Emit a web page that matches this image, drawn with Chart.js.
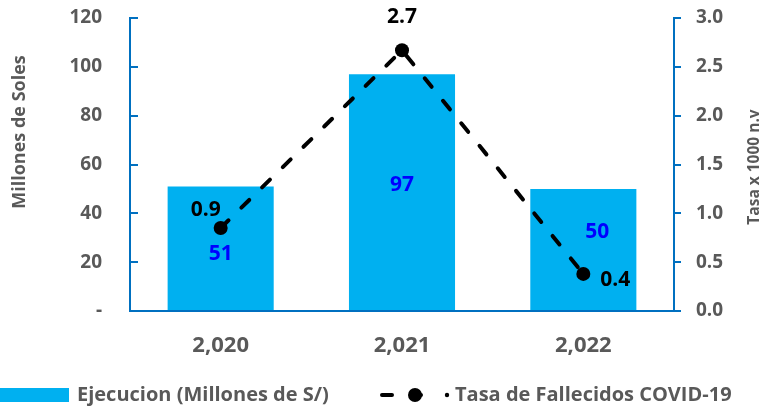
<!DOCTYPE html>
<html>
<head>
<meta charset="utf-8">
<script src="https://cdn.jsdelivr.net/npm/chart.js@4.4.0/dist/chart.umd.min.js"></script>
<style>
  html, body { margin: 0; padding: 0; background: #ffffff; }
  #wrap { width: 764px; height: 410px; position: relative; }
</style>
</head>
<body>
<div id="wrap"><canvas id="c" width="764" height="410"></canvas></div>
<script>
// ---- data ----
const categories = ['2,020', '2,021', '2,022'];
const ejecucion = [51, 97, 50];          // Millones de S/
const tasaFallecidos = [0.85, 2.67, 0.38]; // Tasa x 1000 n.v
const tasaLabels = ['0.9', '2.7', '0.4'];
const leftTicks = [0, 20, 40, 60, 80, 100, 120];
const rightTicks = [0, 0.5, 1.0, 1.5, 2.0, 2.5, 3.0];

const FONT = "'Open Sans', 'DejaVu Sans', sans-serif";
const GRAY = '#595959';
const AXIS_BLUE = '#0070C0';
const BAR_BLUE = '#00B0F0';

// label offsets (style only)
const barLabelOffsets = [[0, 6], [0, -7], [14, -17]];
const lineLabelOffsets = [[-15, -18], [0, -33], [32, 6]];

const labelPlugin = {
  id: 'labels',
  afterDatasetsDraw(chart) {
    const ctx = chart.ctx;
    ctx.save();
    ctx.textAlign = 'center';
    ctx.textBaseline = 'middle';
    const barMeta = chart.getDatasetMeta(1);
    ctx.font = "bold 21px " + FONT;
    ctx.fillStyle = '#0000FF';
    barMeta.data.forEach((el, i) => {
      const cy = (el.y + el.base) / 2;
      ctx.fillText(String(ejecucion[i]), el.x + barLabelOffsets[i][0], cy + barLabelOffsets[i][1]);
    });
    const lineMeta = chart.getDatasetMeta(0);
    ctx.fillStyle = '#000000';
    lineMeta.data.forEach((el, i) => {
      ctx.fillText(tasaLabels[i], el.x + lineLabelOffsets[i][0], el.y + lineLabelOffsets[i][1]);
    });
    ctx.restore();
  },
  afterDraw(chart) {
    const ctx = chart.ctx;
    ctx.save();
    ctx.fillStyle = GRAY;
    ctx.textAlign = 'center';
    ctx.textBaseline = 'middle';
    ctx.save();
    ctx.font = "bold 18px " + FONT;
    ctx.translate(20, 132);
    ctx.rotate(-Math.PI / 2);
    ctx.fillText('Millones de Soles', 0, 0);
    ctx.restore();
    ctx.save();
    ctx.font = "bold 15.5px " + FONT;
    ctx.translate(755, 167);
    ctx.rotate(-Math.PI / 2);
    ctx.fillText('Tasa x 1000 n.v', 0, 0);
    ctx.restore();

    // legend
    const ly = 395;
    ctx.fillStyle = BAR_BLUE;
    ctx.fillRect(0, 388, 69, 14);
    ctx.fillStyle = GRAY;
    ctx.font = "bold 20px " + FONT;
    ctx.textAlign = 'left';
    ctx.fillText('Ejecucion (Millones de S/)', 77, ly);

    ctx.strokeStyle = '#000';
    ctx.lineWidth = 4;
    ctx.lineCap = 'round';
    ctx.beginPath();
    ctx.moveTo(382, ly); ctx.lineTo(392, ly);
    ctx.moveTo(415, ly); ctx.lineTo(421, ly);
    ctx.stroke();
    ctx.fillStyle = '#000';
    ctx.beginPath();
    ctx.arc(415, ly, 7, 0, Math.PI * 2);
    ctx.fill();
    ctx.beginPath();
    ctx.arc(447, ly, 2.2, 0, Math.PI * 2);
    ctx.fill();
    ctx.fillStyle = GRAY;
    ctx.fillText('Tasa de Fallecidos COVID-19', 455, ly);
    ctx.restore();
  }
};

function noPad(s) { s.paddingTop = 0; s.paddingBottom = 0; s.paddingLeft = 0; s.paddingRight = 0; }

new Chart(document.getElementById('c'), {
  data: {
    labels: categories,
    datasets: [
      {
        type: 'line',
        label: 'Tasa de Fallecidos COVID-19',
        data: tasaFallecidos,
        yAxisID: 'y1',
        borderColor: '#000000',
        backgroundColor: '#000000',
        borderWidth: 4,
        borderDash: [11, 18],
        borderCapStyle: 'round',
        tension: 0,
        pointRadius: 7,
        pointHoverRadius: 7,
        pointBackgroundColor: '#000000',
        pointBorderWidth: 0,
        order: 0
      },
      {
        type: 'bar',
        label: 'Ejecucion (Millones de S/)',
        data: ejecucion,
        yAxisID: 'y',
        backgroundColor: BAR_BLUE,
        borderWidth: 0,
        categoryPercentage: 1.0,
        barPercentage: 0.585,
        order: 1
      }
    ]
  },
  options: {
    responsive: false,
    animation: false,
    layout: { padding: { top: 18, left: 0, right: 0, bottom: 0 } },
    plugins: { legend: { display: false }, tooltip: { enabled: false } },
    scales: {
      x: {
        grid: { display: false, drawTicks: false },
        border: { display: true, color: AXIS_BLUE, width: 2 },
        ticks: { color: GRAY, font: { family: FONT, weight: 'bold', size: 22 }, padding: 22 },
        afterFit(s) { s.height = 99; noPad(s); }
      },
      y: {
        position: 'left',
        min: 0, max: 120,
        afterBuildTicks(s) { s.ticks = leftTicks.map(v => ({ value: v })); },
        grid: { drawOnChartArea: false, tickLength: -8, color: AXIS_BLUE, lineWidth: 2 },
        border: { display: true, color: AXIS_BLUE, width: 2 },
        ticks: {
          color: GRAY, font: { family: FONT, weight: 'bold', size: 19 }, padding: 36,
          callback: v => v === 0 ? '-' : String(v)
        },
        afterFit(s) { s.width = 130; noPad(s); }
      },
      y1: {
        position: 'right',
        min: 0, max: 3,
        afterBuildTicks(s) { s.ticks = rightTicks.map(v => ({ value: v })); },
        grid: { drawOnChartArea: false, tickLength: 7, color: AXIS_BLUE, lineWidth: 2 },
        border: { display: true, color: AXIS_BLUE, width: 2 },
        ticks: {
          color: GRAY, font: { family: FONT, weight: 'bold', size: 19 }, padding: 15,
          callback: v => Number(v).toFixed(1)
        },
        afterFit(s) { s.width = 90; noPad(s); }
      }
    }
  },
  plugins: [labelPlugin]
});
</script>
</body>
</html>
